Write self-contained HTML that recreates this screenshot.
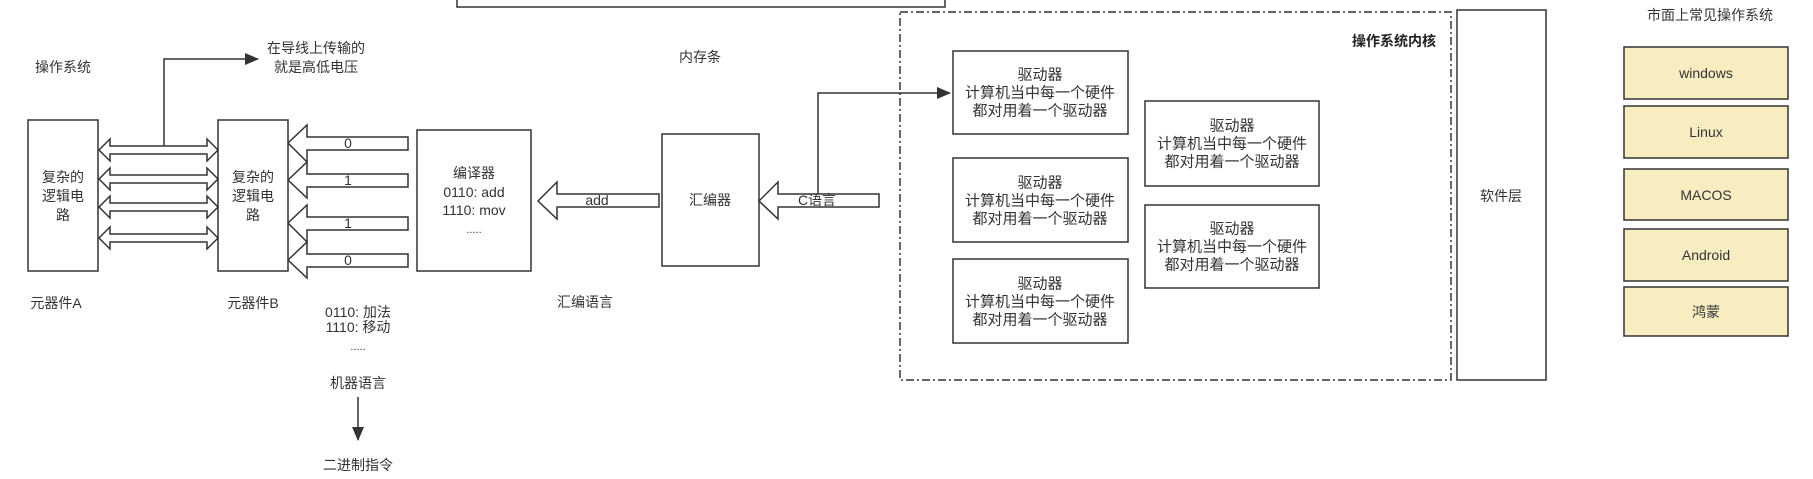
<!DOCTYPE html>
<html><head><meta charset="utf-8"><style>
html,body{margin:0;padding:0;background:#fff;}
svg{display:block;}
text{font-family:"Liberation Sans","Noto Sans CJK SC",sans-serif;font-size:14px;fill:#333;text-anchor:middle;dominant-baseline:central;}
.d{font-size:15px;}
</style></head><body>
<svg width="1813" height="479" viewBox="0 0 1813 479" xmlns="http://www.w3.org/2000/svg">
<defs>
<marker id="ah" markerWidth="10" markerHeight="10" refX="9" refY="5" orient="auto" markerUnits="userSpaceOnUse"><path d="M0,0 L10,5 L0,10 z" fill="#333"/></marker>
<marker id="ah2" markerWidth="14" markerHeight="12" refX="13" refY="6" orient="auto" markerUnits="userSpaceOnUse"><path d="M0,0 L14,6 L0,12 z" fill="#333"/></marker>
</defs>
<g fill="none" stroke="#333" stroke-width="1.5">
<!-- top box -->
<rect x="457" y="-10" width="488" height="17" fill="#fff"/>
<!-- box A, B -->
<rect x="28" y="120" width="70" height="151" fill="#fff"/>
<rect x="218" y="120" width="70" height="151" fill="#fff"/>
<!-- double arrows -->
<path d="M99,150 L110,139 L110,146 L207,146 L207,139 L218,150 L207,161 L207,154 L110,154 L110,161 Z" fill="#fff"/>
<path d="M99,179 L110,168 L110,175 L207,175 L207,168 L218,179 L207,190 L207,183 L110,183 L110,190 Z" fill="#fff"/>
<path d="M99,207 L110,196 L110,203 L207,203 L207,196 L218,207 L207,218 L207,211 L110,211 L110,218 Z" fill="#fff"/>
<path d="M99,238 L110,227 L110,234 L207,234 L207,227 L218,238 L207,249 L207,242 L110,242 L110,249 Z" fill="#fff"/>
<!-- up connector -->
<path d="M164,146 L164,59 L258,59" marker-end="url(#ah2)"/>
<!-- left arrows into B -->
<path d="M288,143 L307,125 L307,137 L408,137 L408,150 L307,150 L307,162 Z" fill="#fff"/>
<path d="M288,180 L307,162 L307,174 L408,174 L408,187 L307,187 L307,198 Z" fill="#fff"/>
<path d="M288,223 L307,205 L307,217 L408,217 L408,230 L307,230 L307,242 Z" fill="#fff"/>
<path d="M288,260 L307,242 L307,254 L408,254 L408,267 L307,267 L307,278 Z" fill="#fff"/>
<!-- compiler box -->
<rect x="417" y="130" width="114" height="141" fill="#fff"/>
<!-- add arrow -->
<path d="M538,201 L557,182 L557,194 L659,194 L659,207 L557,207 L557,219 Z" fill="#fff"/>
<!-- assembler -->
<rect x="662" y="134" width="97" height="132" fill="#fff"/>
<!-- C arrow -->
<path d="M759,201 L778,182 L778,194 L879,194 L879,207 L778,207 L778,219 Z" fill="#fff"/>
<!-- connector to driver -->
<path d="M818,194 L818,93 L950,93" marker-end="url(#ah2)"/>
<!-- machine language arrow -->
<path d="M358,397 L358,440" marker-end="url(#ah2)"/>
<!-- dashed kernel box -->
<rect x="900" y="12" width="551" height="368" stroke-dasharray="8,3,2,3"/>
<!-- drivers -->
<rect x="953" y="51" width="175" height="83" fill="#fff"/>
<rect x="953" y="158" width="175" height="84" fill="#fff"/>
<rect x="953" y="259" width="175" height="84" fill="#fff"/>
<rect x="1145" y="101" width="174" height="85" fill="#fff"/>
<rect x="1145" y="205" width="174" height="83" fill="#fff"/>
<!-- software layer -->
<rect x="1457" y="10" width="89" height="370" fill="#fff"/>
</g>
<g fill="#f7edc0" stroke="#333" stroke-width="1.5">
<rect x="1624" y="47" width="164" height="52"/>
<rect x="1624" y="106" width="164" height="52"/>
<rect x="1624" y="169" width="164" height="51"/>
<rect x="1624" y="229" width="164" height="52"/>
<rect x="1624" y="287" width="164" height="49"/>
</g>
<text x="63" y="67">操作系统</text>
<text x="316" y="48">在导线上传输的</text>
<text x="316" y="67">就是高低电压</text>
<text x="63" y="177">复杂的</text><text x="63" y="196">逻辑电</text><text x="63" y="215">路</text>
<text x="253" y="177">复杂的</text><text x="253" y="196">逻辑电</text><text x="253" y="215">路</text>
<text x="348" y="143">0</text><text x="348" y="180">1</text><text x="348" y="223">1</text><text x="348" y="260">0</text>
<text x="474" y="173">编译器</text>
<text x="474" y="192">0110:   add</text>
<text x="474" y="210">1110:   mov</text>
<text x="474" y="230" style="font-size:11px">.....</text>
<text x="597" y="200">add</text>
<text x="710" y="200">汇编器</text>
<text x="817" y="200">C语言</text>
<text x="56" y="303">元器件A</text>
<text x="253" y="303">元器件B</text>
<text x="358" y="312">0110:   加法</text>
<text x="358" y="327">1110:   移动</text>
<text x="358" y="347" style="font-size:11px">.....</text>
<text x="358" y="383">机器语言</text>
<text x="358" y="465">二进制指令</text>
<text x="585" y="302">汇编语言</text>
<text x="700" y="57">内存条</text>
<text x="1436" y="41" style="text-anchor:end;font-weight:bold;fill:#222">操作系统内核</text>
<g class="d">
<text class="d" x="1040" y="75">驱动器</text><text class="d" x="1040" y="93">计算机当中每一个硬件</text><text class="d" x="1040" y="111">都对用着一个驱动器</text>
<text class="d" x="1040" y="183">驱动器</text><text class="d" x="1040" y="201">计算机当中每一个硬件</text><text class="d" x="1040" y="219">都对用着一个驱动器</text>
<text class="d" x="1040" y="284">驱动器</text><text class="d" x="1040" y="302">计算机当中每一个硬件</text><text class="d" x="1040" y="320">都对用着一个驱动器</text>
<text class="d" x="1232" y="126">驱动器</text><text class="d" x="1232" y="144">计算机当中每一个硬件</text><text class="d" x="1232" y="162">都对用着一个驱动器</text>
<text class="d" x="1232" y="229">驱动器</text><text class="d" x="1232" y="247">计算机当中每一个硬件</text><text class="d" x="1232" y="265">都对用着一个驱动器</text>
</g>
<text x="1501" y="196">软件层</text>
<text x="1710" y="15">市面上常见操作系统</text>
<text x="1706" y="73">windows</text>
<text x="1706" y="132">Linux</text>
<text x="1706" y="195">MACOS</text>
<text x="1706" y="255">Android</text>
<text x="1706" y="312">鸿蒙</text>
</svg>
</body></html>
